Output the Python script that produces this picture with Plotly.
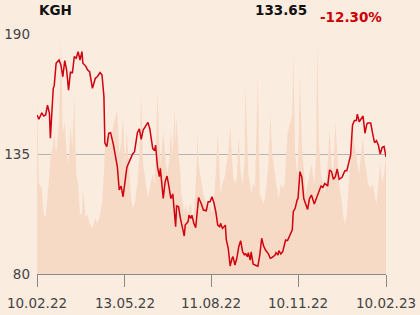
import pandas as pd
import plotly.graph_objects as go

ticker = "KGH"
last_price_label = "133.65"
change_label = "-12.30%"

start_date = "2022-02-10"
day_offsets = [
    0, 2, 5, 7, 9, 11, 13, 14, 17, 18,
    20, 23, 25, 27, 29, 31, 33, 35, 37, 39,
    41, 43, 45, 47, 48, 51, 53, 55, 58, 61,
    63, 66, 68, 70, 71, 73, 75, 77, 80, 84,
    86, 88, 90, 92, 94, 98, 100, 102, 105, 107,
    109, 111, 113, 116, 118, 121, 123, 124, 126, 128,
    129, 132, 134, 136, 138, 140, 142, 144, 145, 146,
    148, 150, 151, 154, 155, 158, 159, 161, 162, 164,
    166, 168, 169, 172, 174, 177, 179, 181, 183, 185,
    187, 189, 191, 192, 194, 197, 198, 200, 202, 204,
    205, 207, 209, 211, 213, 215, 217, 218, 220, 221,
    223, 224, 226, 228, 231, 233, 235, 237, 239, 242,
    244, 246, 249, 250, 252, 253, 255, 257, 259, 260,
    262, 264, 265, 267, 268, 270, 272, 273, 275, 277,
    279, 281, 283, 285, 287, 290, 292, 293, 295, 297,
    299, 301, 304, 306, 308, 310, 312, 314, 316, 319,
    320, 322, 324, 326, 328, 330, 332, 334, 335, 337,
    339, 341, 343, 345, 346, 349, 351, 353, 355, 357,
    359, 361, 363, 365,
]

prices = [
    152.9, 150.9, 153.9, 152.4, 152.9, 157.4, 153.6, 142.2, 165.1, 166.2,
    176.6, 178.1, 175.8, 170.4, 177.8, 173.5, 164.3, 172.7, 172.0, 179.6,
    178.9, 181.9, 178.1, 181.9, 176.6, 175.3, 173.5, 172.7, 165.1, 169.7,
    170.4, 172.3, 171.2, 161.3, 140.0, 138.4, 144.5, 144.8, 139.1, 129.2,
    118.5, 120.3, 115.4, 123.1, 128.9, 133.0, 135.0, 136.1, 144.8, 146.5,
    141.7, 146.0, 147.2, 149.5, 146.5, 137.6, 136.5, 139.1, 129.2, 124.6,
    128.4, 114.6, 122.3, 124.9, 120.0, 114.6, 116.7, 107.8, 101.7, 111.2,
    110.9, 105.5, 103.2, 97.4, 102.4, 104.0, 107.0, 105.5, 107.0, 103.2,
    101.2, 109.3, 115.1, 112.0, 109.3, 109.0, 113.1, 113.1, 115.4, 112.7,
    108.6, 102.4, 101.7, 103.2, 100.9, 102.4, 95.6, 91.8, 83.6, 87.2,
    87.9, 84.1, 87.2, 92.5, 95.3, 90.2, 88.7, 89.5, 87.9, 89.8,
    86.4, 90.2, 84.6, 84.1, 83.6, 88.7, 96.4, 92.8, 91.0, 89.2,
    87.2, 87.6, 88.7, 89.8, 88.7, 90.7, 89.2, 90.2, 94.8, 95.6,
    95.3, 97.1, 97.9, 100.2, 108.6, 110.1, 113.9, 114.6, 126.9, 124.3,
    114.6, 112.4, 109.6, 114.6, 116.2, 112.1, 114.6, 115.4, 117.7, 120.3,
    119.7, 121.5, 120.3, 127.7, 126.9, 123.4, 124.6, 128.1, 123.4, 124.3,
    125.3, 127.3, 127.3, 130.7, 134.5, 148.3, 150.3, 150.3, 153.3, 149.8,
    150.9, 152.4, 144.5, 148.8, 149.2, 149.2, 144.5, 140.2, 141.1, 139.1,
    135.0, 138.1, 138.4, 133.65,
]

volumes = [
    8.7, 4.5, 4.3, 3.0, 2.8, 3.8, 5.0, 5.8, 6.5, 7.0,
    6.0, 7.5, 11.7, 7.0, 7.6, 6.0, 5.5, 7.4, 6.3, 8.9,
    5.0, 4.5, 3.0, 3.0, 4.3, 2.8, 3.0, 2.5, 2.3, 2.8,
    2.5, 3.0, 3.5, 5.0, 6.5, 6.3, 7.0, 6.5, 7.5, 8.2,
    6.0, 6.5, 7.8, 5.5, 7.1, 4.0, 3.3, 3.5, 4.5, 6.0,
    9.0, 5.5, 4.8, 3.8, 4.3, 5.0, 4.5, 6.0, 9.1, 6.5,
    5.5, 7.1, 6.0, 5.0, 5.5, 7.2, 6.0, 8.3, 6.5, 7.9,
    6.0, 5.0, 4.0, 3.0, 3.5, 3.0, 3.3, 3.5, 2.8, 3.0,
    4.5, 7.0, 5.5, 4.5, 4.0, 3.5, 3.3, 3.5, 3.0, 3.8,
    5.0, 7.1, 4.8, 4.0, 4.5, 5.0, 5.5, 6.0, 7.4, 5.5,
    5.0, 4.5, 4.8, 6.9, 5.0, 4.5, 5.5, 9.5, 6.5, 5.0,
    4.5, 4.0, 4.5, 4.3, 10.0, 4.0, 3.8, 3.5, 4.0, 5.5,
    8.0, 6.0, 5.0, 4.5, 4.0, 3.8, 4.5, 4.3, 4.5, 5.5,
    7.0, 7.5, 7.5, 8.0, 11.1, 6.0, 5.0, 5.5, 10.0, 6.5,
    5.0, 4.0, 4.5, 5.0, 5.5, 4.5, 6.0, 11.6, 6.5, 5.0,
    4.5, 4.0, 5.5, 7.2, 5.5, 5.0, 7.6, 6.0, 4.5, 3.5,
    3.0, 2.5, 3.0, 4.5, 6.0, 7.0, 6.5, 6.0, 5.5, 5.0,
    6.0, 6.8, 5.5, 5.0, 4.5, 4.3, 4.5, 4.0, 3.5, 4.5,
    5.5, 4.5, 5.0, 6.0,
]

x_tick_dates = ["2022-02-10", "2022-05-13", "2022-08-11", "2022-11-10", "2023-02-10"]
x_tick_labels = ["10.02.22", "13.05.22", "11.08.22", "10.11.22", "10.02.23"]
y_tick_values = [80, 135, 190]
y_tick_labels = ["80", "135", "190"]

dates = pd.Timestamp(start_date) + pd.to_timedelta(day_offsets, unit="D")

BG = "#fbece0"
FONT = "DejaVu Sans"
FS = 13.5

fig = go.Figure()
# volume (background area) on the primary, hidden axis
fig.add_trace(go.Scatter(
    x=dates, y=volumes, yaxis="y", mode="lines",
    line=dict(width=0, color="#f6d8c2"), fill="tozeroy",
    fillcolor="#f7dac5", hoverinfo="skip", showlegend=False,
))
# price line on the overlaying axis (drawn on top)
fig.add_trace(go.Scatter(
    x=dates, y=prices, yaxis="y2", mode="lines",
    line=dict(color="#d0000f", width=1.5), showlegend=False,
))

fig.update_layout(
    width=420, height=315,
    margin=dict(l=37, r=34, t=34, b=41, autoexpand=False),
    paper_bgcolor=BG, plot_bgcolor=BG,
    font=dict(family=FONT, size=FS, color="#444444"),
    xaxis=dict(
        type="date", range=[x_tick_dates[0], x_tick_dates[-1]],
        tickvals=x_tick_dates, ticktext=x_tick_labels,
        showgrid=False, zeroline=False, automargin=False,
        showline=True, linecolor="#8a8a8a", linewidth=1,
        ticks="outside", ticklen=12, tickcolor="#8a8a8a", tickwidth=1,
        ticklabelstandoff=5,
        tickfont=dict(size=FS, color="#444444"),
    ),
    yaxis=dict(
        range=[0, 12], showgrid=False, showticklabels=False,
        zeroline=False, visible=False, automargin=False,
    ),
    yaxis2=dict(
        range=[80, 190], tickvals=y_tick_values, ticktext=y_tick_labels,
        overlaying="y", side="left", automargin=False,
        showgrid=True, gridcolor="#b3b3b3", gridwidth=1,
        zeroline=False, showline=False, ticks="",
        ticklabelstandoff=6,
        tickfont=dict(size=FS, color="#444444"),
    ),
    annotations=[
        dict(text="<b>" + ticker + "</b>", xref="paper", yref="paper",
             x=0, y=1.1, xanchor="left", yanchor="middle", showarrow=False,
             font=dict(family=FONT, size=FS, color="#111111")),
        dict(text="<b>" + last_price_label + "</b>", xref="paper", yref="paper",
             x=0.699, y=1.1, xanchor="center", yanchor="middle", showarrow=False,
             font=dict(family=FONT, size=FS, color="#111111")),
        dict(text="<b>" + change_label + "</b>", xref="paper", yref="paper",
             x=0.9, y=1.071, xanchor="center", yanchor="middle", showarrow=False,
             font=dict(family=FONT, size=FS, color="#cc0000")),
    ],
)

fig.write_html("out.html")
